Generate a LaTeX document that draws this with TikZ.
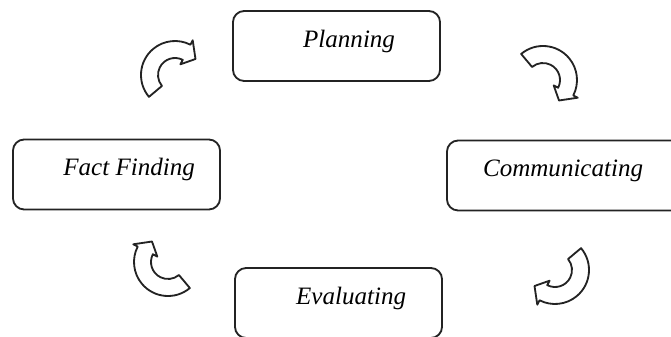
\documentclass[tikz,border=0pt]{standalone}
\usepackage{fontspec}
\setmainfont{Liberation Serif}
\definecolor{ink}{RGB}{35,35,35}

\begin{document}
\begin{tikzpicture}[x=0.025cm,y=0.025cm,
  stage/.style={draw=ink,line width=1.3pt,rounded corners=0.28cm,minimum height=1.75cm,
  minimum width=5.175cm,inner sep=0pt},
  lbl/.style={anchor=base,inner sep=0pt,font=\fontsize{17.8}{20}\selectfont\itshape},
  turn/.pic={\draw[ink,line width=1.3pt,fill=white,line join=round]
    (40:34) arc[start angle=40,end angle=-117,radius=34] -- (-117:39) -- (-142:26)
    -- (-117:12) -- (-117:17) arc[start angle=-117,end angle=40,radius=17] -- cycle;}]
\clip (0,0) rectangle (671,336);
\node[stage] (plan) at (336.5,290) {};
\node[stage] (fact) at (116.5,161.5) {};
\node[stage,minimum width=6cm] (comm) at (567,160.5) {};
\node[stage] (eval) at (338.5,33) {};
\node[lbl] (plan-t) at ([xshift=2.925cm,yshift=-0.04cm]plan.west) {Planning};
\node[lbl] (fact-t) at ([xshift=2.925cm,yshift=-0.02cm]fact.west) {Fact Finding};
\node[lbl] (comm-t) at ([xshift=2.925cm,yshift=-0.03cm]comm.west) {Communicating};
\node[lbl] (eval-t) at ([xshift=2.925cm,yshift=-0.03cm]eval.west) {Evaluating};
\pic[rotate=180] (tl) at (175,261) {turn};
\pic[rotate=90] (tr) at (543,256) {turn};
\pic (br) at (555,66) {turn};
\pic[rotate=-90] (bl) at (168,74) {turn};
\end{tikzpicture}
\end{document}
